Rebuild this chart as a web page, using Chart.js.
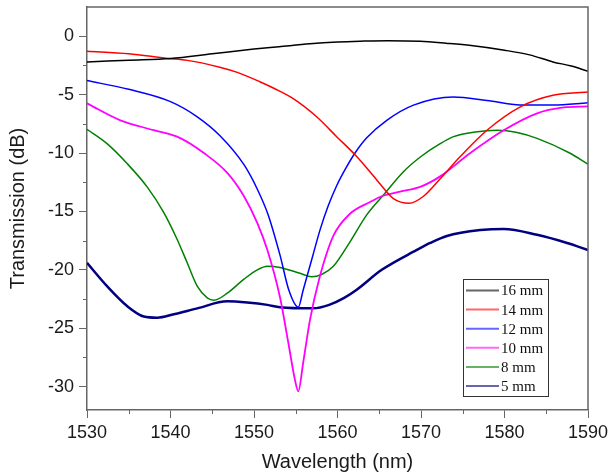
<!DOCTYPE html>
<html>
<head>
<meta charset="utf-8">
<script src="https://cdn.jsdelivr.net/npm/chart.js@4.4.1/dist/chart.umd.min.js"></script>
<style>
  html, body { margin: 0; padding: 0; background: #fff; }
  #wrap { width: 611px; height: 476px; }
</style>
</head>
<body>
<div id="wrap"><canvas id="transChart" width="611" height="476"></canvas></div>
<script>
// wavelength (nm) / transmission (dB), one pair per gauge length
const wl16 = [1530, 1535, 1540, 1545, 1550, 1553, 1556.7, 1560, 1562.7, 1566, 1569.9, 1573, 1576, 1580, 1583, 1585.8, 1588, 1590];
const t16  = [-2.2, -2.05, -1.9, -1.5, -1.1, -0.9, -0.65, -0.5, -0.43, -0.38, -0.43, -0.6, -0.8, -1.2, -1.6, -2.2, -2.55, -3.0];

const wl14 = [1530, 1535, 1539.6, 1542, 1545.9, 1548, 1550.7, 1552.5, 1554.7, 1557.5, 1559.9, 1562.3, 1564.7, 1566.7, 1568.6, 1570.3, 1572.3, 1574.7, 1577.9, 1581.9, 1585.8, 1590];
const t14  = [-1.28, -1.5, -1.9, -2.07, -2.65, -3.1, -3.9, -4.5, -5.35, -6.9, -8.6, -10.3, -12.3, -13.9, -14.3, -13.7, -12.2, -10.3, -8.05, -6.05, -5.06, -4.78];

const wl12 = [1530, 1535, 1540, 1543.2, 1545.9, 1548.8, 1550.4, 1551.7, 1553.1, 1554.2, 1555.3, 1555.9, 1557, 1557.9, 1558.9, 1559.9, 1561, 1562.1, 1563.5, 1565.9, 1569.1, 1573.9, 1577.9, 1582.3, 1585.8, 1590];
const t12  = [-3.8, -4.55, -5.6, -6.9, -8.5, -11.0, -13.1, -15.3, -18.7, -21.8, -23.2, -21.7, -18.9, -16.6, -14.5, -12.8, -11.3, -10.0, -8.7, -7.2, -5.9, -5.2, -5.5, -5.9, -5.9, -5.7];

const wl10 = [1530, 1534, 1538, 1541.1, 1544, 1546.8, 1548.8, 1550.4, 1551.6, 1553.1, 1554.1, 1554.9, 1555.3, 1555.9, 1556.7, 1557.8, 1559.5, 1561.5, 1563.9, 1565.3, 1567.5, 1569.9, 1572.3, 1575.9, 1579.9, 1583.9, 1587.1, 1590];
const t10  = [-5.75, -7.2, -8.05, -8.7, -10.0, -11.7, -13.7, -16.0, -18.3, -22.3, -26.2, -29.4, -30.4, -27.9, -24.3, -20.8, -17.1, -15.2, -14.2, -13.7, -13.3, -12.9, -12.0, -10.0, -8.05, -6.6, -6.1, -6.0];

const wl8 = [1530, 1532.4, 1534.8, 1537.2, 1539.2, 1540.8, 1542, 1543.2, 1544.4, 1545.2, 1546.8, 1548.8, 1550.4, 1551.6, 1553.1, 1555.5, 1556.9, 1558.1, 1559.5, 1561.5, 1563.5, 1565.5, 1567.9, 1570, 1572.3, 1573.9, 1576.5, 1579.1, 1581.5, 1583.9, 1587.8, 1590];
const t8  = [-7.97, -9.2, -10.9, -12.9, -15.1, -17.4, -19.4, -21.4, -22.4, -22.6, -22.0, -20.8, -20.0, -19.7, -19.8, -20.3, -20.6, -20.4, -19.7, -17.6, -15.3, -13.6, -11.6, -10.3, -9.2, -8.6, -8.2, -8.05, -8.25, -8.75, -10.0, -10.95];

const wl5 = [1530, 1532.4, 1534.8, 1536.8, 1538.4, 1540.4, 1543.2, 1546.8, 1549.2, 1551.6, 1553.1, 1557.1, 1559, 1560.8, 1562.3, 1565.3, 1569.5, 1571.1, 1573.1, 1577.1, 1579.9, 1583.9, 1587.5, 1590];
const t5  = [-19.4, -21.4, -23.1, -24.0, -24.1, -23.8, -23.3, -22.7, -22.8, -23.0, -23.2, -23.3, -23.0, -22.4, -21.7, -20.0, -18.3, -17.7, -17.1, -16.6, -16.5, -17.0, -17.7, -18.3];

const seriesLabels = ["16 mm", "14 mm", "12 mm", "10 mm", "8 mm", "5 mm"];
const xTicks = [1530, 1540, 1550, 1560, 1570, 1580, 1590];
const yTicks = [-30, -25, -20, -15, -10, -5, 0];

function pairs(xs, ys) {
    return xs.map(function (x, i) { return { x: x, y: ys[i] }; });
}

function makeSet(label, xs, ys, color, width) {
    return {
        label: label,
        data: pairs(xs, ys),
        borderColor: color,
        backgroundColor: color,
        borderWidth: width,
        pointRadius: 0,
        fill: false,
        cubicInterpolationMode: "monotone"
    };
}

const AXIS = "#666666";

/* outward minor ticks + top/right frame */
const framePlugin = {
    id: "frame",
    afterDraw: function (chart) {
        const ctx = chart.ctx;
        const a = chart.chartArea;
        const xs = chart.scales.x, ys = chart.scales.y;
        ctx.save();
        ctx.strokeStyle = AXIS;
        ctx.lineWidth = 1.5;
        ctx.beginPath();
        ctx.moveTo(a.left, a.top);
        ctx.lineTo(a.right, a.top);
        ctx.lineTo(a.right, a.bottom);
        ctx.stroke();
        ctx.lineWidth = 1;
        ctx.beginPath();
        for (let v = 1535; v < 1590; v += 10) {
            const px = Math.round(xs.getPixelForValue(v)) + 0.5;
            ctx.moveTo(px, a.bottom);
            ctx.lineTo(px, a.bottom + 4);
        }
        for (let v = -27.5; v < 0; v += 5) {
            const py = Math.round(ys.getPixelForValue(v)) + 0.5;
            ctx.moveTo(a.left, py);
            ctx.lineTo(a.left - 4, py);
        }
        ctx.stroke();
        ctx.restore();
    }
};

/* legend box inside the plot, lower right */
const legendPlugin = {
    id: "boxLegend",
    afterDraw: function (chart) {
        const ctx = chart.ctx;
        const bx = 463, by = 279, bw = 85, bh = 117;
        ctx.save();
        ctx.fillStyle = "#fff";
        ctx.fillRect(bx, by, bw, bh);
        ctx.strokeStyle = "#333";
        ctx.lineWidth = 1;
        ctx.strokeRect(bx + 0.5, by + 0.5, bw, bh);
        ctx.font = "15px 'Liberation Serif', 'Times New Roman', serif";
        ctx.textBaseline = "middle";
        chart.data.datasets.forEach(function (ds, i) {
            const cy = by + 11.5 + i * 19.1;
            ctx.globalAlpha = 0.6;
            ctx.strokeStyle = ds.borderColor;
            ctx.lineWidth = 2;
            ctx.beginPath();
            ctx.moveTo(bx + 3, cy);
            ctx.lineTo(bx + 36, cy);
            ctx.stroke();
            ctx.globalAlpha = 1;
            ctx.fillStyle = "#111";
            ctx.fillText(ds.label, bx + 38, cy + 1);
        });
        ctx.restore();
    }
};

new Chart(document.getElementById("transChart"), {
    type: "line",
    data: {
        datasets: [
            makeSet(seriesLabels[0], wl16, t16, "#000000", 1.5),
            makeSet(seriesLabels[1], wl14, t14, "#ff0000", 1.5),
            makeSet(seriesLabels[2], wl12, t12, "#0000ff", 1.5),
            makeSet(seriesLabels[3], wl10, t10, "#ff00ff", 1.8),
            makeSet(seriesLabels[4], wl8, t8, "#008000", 1.5),
            makeSet(seriesLabels[5], wl5, t5, "#000080", 2.5)
        ]
    },
    options: {
        responsive: false,
        animation: false,
        layout: { padding: { top: 7, right: 23, left: 0, bottom: 0 } },
        plugins: {
            legend: { display: false },
            tooltip: { enabled: false }
        },
        scales: {
            x: {
                type: "linear",
                min: 1530,
                max: 1590,
                afterBuildTicks: function (s) { s.ticks = xTicks.map(function (v) { return { value: v }; }); },
                afterFit: function (s) { s.height = 66; s.paddingLeft = 0; s.paddingRight = 0; },
                ticks: {
                    color: "#1a1a1a",
                    font: { family: "'Liberation Sans', Arial, sans-serif", size: 18 },
                    padding: 4,
                    maxRotation: 0,
                    callback: function (v) { return String(v); }
                },
                grid: { display: true, drawOnChartArea: false, drawTicks: true, tickLength: 8, color: AXIS, lineWidth: 1 },
                border: { display: true, color: AXIS, width: 1.5 },
                title: {
                    display: true,
                    text: "Wavelength (nm)",
                    color: "#1a1a1a",
                    font: { family: "'Liberation Sans', Arial, sans-serif", size: 20 },
                    padding: { top: 2, bottom: 2 }
                }
            },
            y: {
                min: -32,
                max: 2.5,
                afterBuildTicks: function (s) { s.ticks = yTicks.map(function (v) { return { value: v }; }); },
                afterFit: function (s) { s.width = 87; s.paddingTop = 0; s.paddingBottom = 0; },
                ticks: {
                    color: "#1a1a1a",
                    font: { family: "'Liberation Sans', Arial, sans-serif", size: 18 },
                    padding: 5,
                    callback: function (v) { return String(v); }
                },
                grid: { display: true, drawOnChartArea: false, drawTicks: true, tickLength: 8, color: AXIS, lineWidth: 1 },
                border: { display: true, color: AXIS, width: 1.5 },
                title: {
                    display: true,
                    text: "Transmission (dB)",
                    color: "#1a1a1a",
                    font: { family: "'Liberation Sans', Arial, sans-serif", size: 20 },
                    padding: { top: 6, bottom: 6 }
                }
            }
        }
    },
    plugins: [framePlugin, legendPlugin]
});
</script>
</body>
</html>
